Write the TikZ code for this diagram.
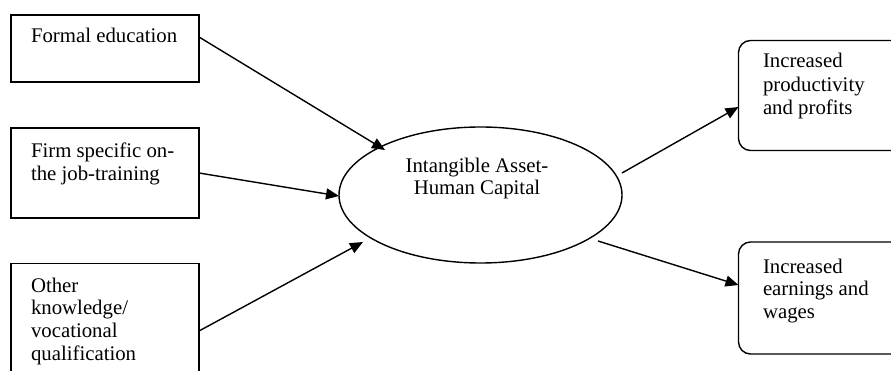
\documentclass[tikz,border=0pt]{standalone}
\usepackage{fontspec}
\setmainfont{Liberation Serif}
\usetikzlibrary{arrows.meta,shapes.geometric}
\begin{document}
\begin{tikzpicture}[x=1pt,y=-1pt,
  every node/.style={inner sep=0pt, outer sep=0pt},
  txt/.style={font=\fontsize{20.8}{22.6}\selectfont, anchor=base west, align=left},
  inbox/.style={draw, line width=1.4pt, rectangle, anchor=north west},
  outbox/.style={draw, line width=1.4pt, rectangle, rounded corners=12pt, anchor=north west},
  hub/.style={draw, line width=1.4pt, ellipse, minimum width=283pt, minimum height=136pt},
  link/.style={line width=1.4pt, -{Triangle[length=13pt,width=11pt]}}]
\useasboundingbox (0,0) rectangle (891,371);
\clip (0,0) rectangle (891,371);

% input boxes
\node[inbox, minimum width=188pt, minimum height=67pt] (edu) at (11,15) {};
\node[inbox, minimum width=188pt, minimum height=90pt] (train) at (11,128) {};
\node[inbox, minimum width=188pt, minimum height=130pt] (other) at (11,263.5) {};
\node[txt] (edut) at (31,43) {Formal education};
\node[txt] (traint) at (31,158) {Firm specific on-};
\node[txt] (traint2) at (31,180.5) {the job-training};
\node[txt] (othert1) at (31,292) {Other};
\node[txt] (othert2) at (31,314.5) {knowledge/};
\node[txt] (othert3) at (31,337.5) {vocational};
\node[txt] (othert4) at (31,360.5) {qualification};

% central ellipse
\node[hub] (hc) at (480.5,195) {};
\node[txt, anchor=base] (hct1) at (477,173) {Intangible Asset-};
\node[txt, anchor=base] (hct2) at (477,195) {Human Capital};

% outcome boxes
\node[outbox, minimum width=180pt, minimum height=110pt] (prod) at (738.5,40.5) {};
\node[outbox, minimum width=180pt, minimum height=112pt] (earn) at (738.5,242) {};
\node[txt] (prodt1) at (763,68) {Increased};
\node[txt] (prodt2) at (763,91.5) {productivity};
\node[txt] (prodt3) at (763,115) {and profits};
\node[txt] (earnt1) at (763,273) {Increased};
\node[txt] (earnt2) at (763,295.5) {earnings and};
\node[txt] (earnt3) at (763,318) {wages};

% arrow end points
\coordinate (a1s) at (199,37);
\coordinate (a1e) at (385,150);
\coordinate (a2e) at (339,196);
\coordinate (a3s) at (199,331);
\coordinate (a3e) at (363,242);
\coordinate (a4s) at (622,173);
\coordinate (a4e) at (738.5,107);
\coordinate (a5s) at (598,241);
\coordinate (a5e) at (738.5,285);

\draw[link] (a1s) -- (a1e);
\draw[link] (train.east) -- (a2e);
\draw[link] (a3s) -- (a3e);
\draw[link] (a4s) -- (a4e);
\draw[link] (a5s) -- (a5e);
\end{tikzpicture}
\end{document}
